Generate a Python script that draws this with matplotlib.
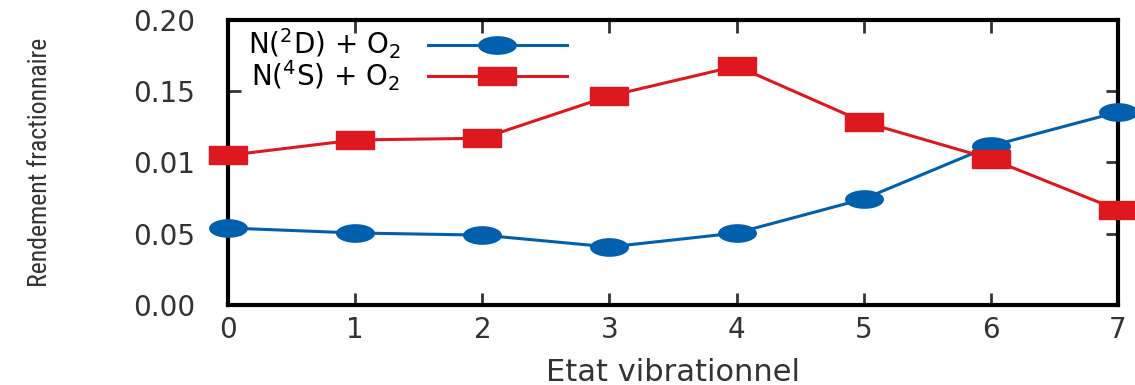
import matplotlib
matplotlib.use('Agg')
import matplotlib.pyplot as plt
from matplotlib.path import Path
from matplotlib import font_manager
import numpy as np

# Data
etats = [0, 1, 2, 3, 4, 5, 6, 7]
n2d_o2 = [0.054, 0.0505, 0.049, 0.0407, 0.0505, 0.0744, 0.1116, 0.1354]
n4s_o2 = [0.105, 0.1158, 0.117, 0.1467, 0.1677, 0.1284, 0.1025, 0.0667]
ytick_vals = [0.00, 0.05, 0.10, 0.15, 0.20]
ytick_labels = ['0.00', '0.05', '0.01', '0.15', '0.20']

blue = '#0060ad'
red = '#dd181f'
txt = '#333333'

names = {f.name for f in font_manager.fontManager.ttflist}
narrow = [n for n in ['Liberation Sans Narrow', 'DejaVu Sans Condensed', 'Roboto Condensed',
                      'Open Sans Condensed'] if n in names]

# stretched markers (the picture is squashed horizontally)
t = np.linspace(0, 2 * np.pi, 60)
ellipse = Path(np.column_stack([np.cos(t), 0.46 * np.sin(t)]), closed=True)
rect = Path([(-1, -0.46), (1, -0.46), (1, 0.46), (-1, 0.46), (-1, -0.46)], closed=True)

fig = plt.figure(figsize=(11.35, 3.85), dpi=100)
ax = fig.add_axes([0.201, 0.208, 0.784, 0.740])

ax.plot(etats, n2d_o2, color=blue, lw=2.2, marker=ellipse, ms=27,
        label=r'N($^2$D) + O$_2$', clip_on=False, zorder=3)
ax.plot(etats, n4s_o2, color=red, lw=2.2, marker=rect, ms=27,
        label=r'N($^4$S) + O$_2$', clip_on=False, zorder=3)

ax.set_xlim(0, 7)
ax.set_ylim(0, 0.20)
ax.set_xticks(etats)
ax.set_yticks(ytick_vals)
ax.set_yticklabels(ytick_labels)
ax.tick_params(direction='in', length=9, width=2, labelsize=20, colors=txt,
               top=True, right=True)
ax.tick_params(axis='y', pad=24)
ax.tick_params(axis='x', pad=8)
for s in ax.spines.values():
    s.set_linewidth(3)

ax.set_xlabel('Etat vibrationnel', fontsize=22, color=txt, labelpad=10)
if narrow:
    ax.set_ylabel('Rendement fractionnaire', fontsize=18.5, color=txt,
                  family=narrow[0], labelpad=58)
else:
    ax.set_ylabel('Rendement fractionnaire', fontsize=15, color=txt, labelpad=58)

ax.legend(loc='upper left', bbox_to_anchor=(0.0, 1.045), frameon=False, markerfirst=False,
          fontsize=20, handlelength=5.0, labelspacing=-0.12, borderaxespad=0.3,
          handletextpad=1.0)

fig.savefig('out.png', dpi=100)
